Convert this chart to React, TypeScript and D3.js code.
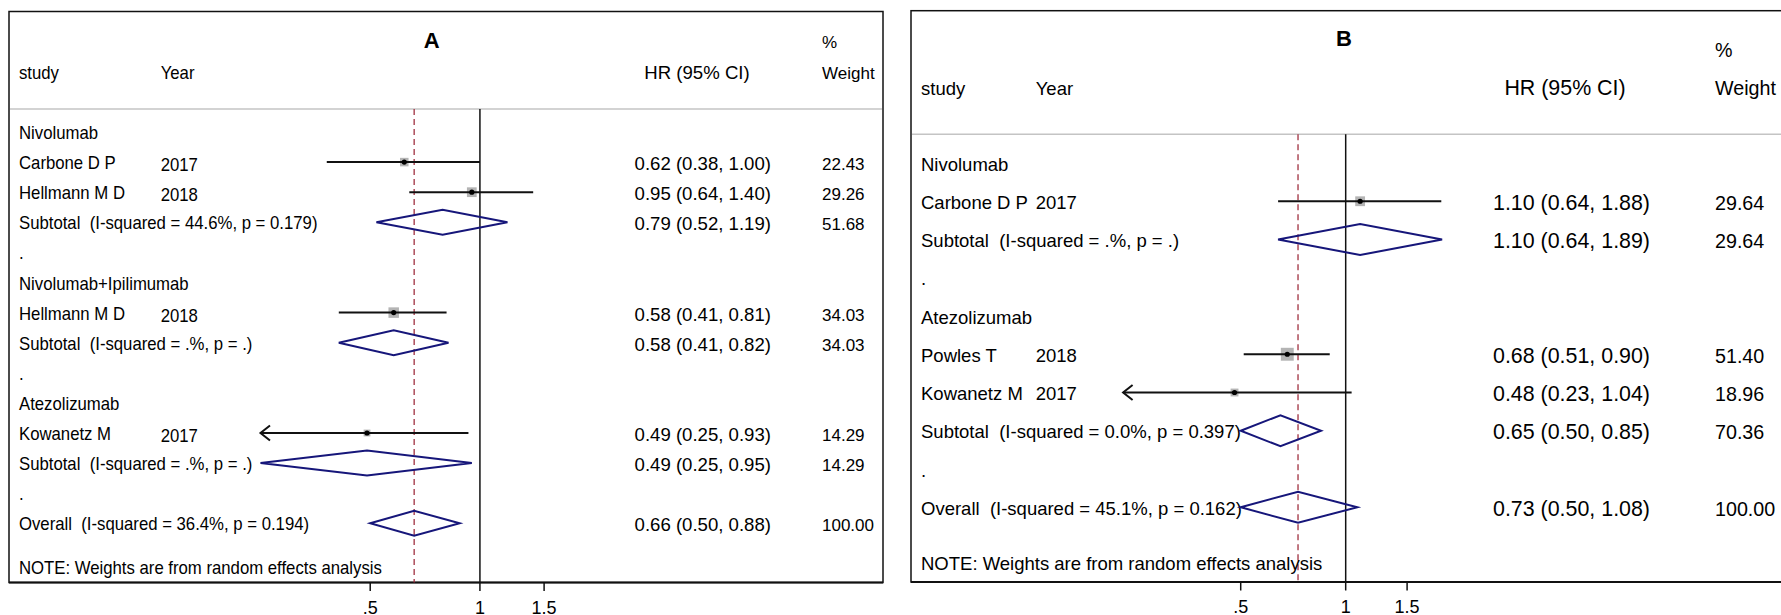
import React from "react";
import * as d3 from "d3";

// ---------------- Panel A data ----------------
const labelsA = [
  "Nivolumab",
  "Carbone D P",
  "Hellmann M D",
  "Subtotal  (I-squared = 44.6%, p = 0.179)",
  ".",
  "Nivolumab+Ipilimumab",
  "Hellmann M D",
  "Subtotal  (I-squared = .%, p = .)",
  ".",
  "Atezolizumab",
  "Kowanetz M",
  "Subtotal  (I-squared = .%, p = .)",
  ".",
  "Overall  (I-squared = 36.4%, p = 0.194)",
];
const kindsA = ["group", "study", "study", "sub", "dot", "group", "study", "sub", "dot", "group", "study", "sub", "dot", "overall"];
const yearsA = ["", "2017", "2018", "", "", "", "2018", "", "", "", "2017", "", "", ""];
const hrA = [null, 0.62, 0.95, 0.79, null, null, 0.58, 0.58, null, null, 0.49, 0.49, null, 0.66];
const loA = [null, 0.38, 0.64, 0.52, null, null, 0.41, 0.41, null, null, 0.25, 0.25, null, 0.5];
const hiA = [null, 1.0, 1.4, 1.19, null, null, 0.81, 0.82, null, null, 0.93, 0.95, null, 0.88];
const weightA = [null, 22.43, 29.26, 51.68, null, null, 34.03, 34.03, null, null, 14.29, 14.29, null, 100.0];

// ---------------- Panel B data ----------------
const labelsB = [
  "Nivolumab",
  "Carbone D P",
  "Subtotal  (I-squared = .%, p = .)",
  ".",
  "Atezolizumab",
  "Powles T",
  "Kowanetz M",
  "Subtotal  (I-squared = 0.0%, p = 0.397)",
  ".",
  "Overall  (I-squared = 45.1%, p = 0.162)",
];
const kindsB = ["group", "study", "sub", "dot", "group", "study", "study", "sub", "dot", "overall"];
const yearsB = ["", "2017", "", "", "", "2018", "2017", "", "", ""];
const hrB = [null, 1.1, 1.1, null, null, 0.68, 0.48, 0.65, null, 0.73];
const loB = [null, 0.64, 0.64, null, null, 0.51, 0.23, 0.5, null, 0.5];
const hiB = [null, 1.88, 1.89, null, null, 0.9, 1.04, 0.85, null, 1.08];
const weightB = [null, 29.64, 29.64, null, null, 51.4, 18.96, 70.36, null, 100.0];

// ---------------- Axis ----------------
const tickValues = [0.5, 1, 1.5];
const tickLabels = [".5", "1", "1.5"];
const noteText = "NOTE: Weights are from random effects analysis";

const FONT = "'Liberation Sans', Arial, Helvetica, sans-serif";
const NAVY = "#16167a";
const MAROON = "#a03040";

type Layout = {
  box: [number, number, number, number];
  sepY: number;
  rowY0: number;
  rowStep: number;
  noteY: number;
  titleX: number;
  titleY: number;
  studyX: number;
  yearX: number;
  headY: number;
  pctY: number;
  hrEnd: number;
  hrHeadX: number;
  wX: number;
  hrFont: number;
  wFont: number;
  leftFont: number;
  leftScale: number;
  domain: [number, number];
  range: [number, number];
  dHalf: number;
  textDy: number;
  yearDy: number;
};

const layoutA: Layout = {
  box: [9, 11.5, 883, 582.5],
  sepY: 109,
  rowY0: 132,
  rowStep: 30.1,
  noteY: 574,
  titleX: 431.6,
  titleY: 47.5,
  studyX: 19,
  yearX: 160.7,
  headY: 78.5,
  pctY: 48,
  hrEnd: 771,
  hrHeadX: 697,
  wX: 822,
  hrFont: 18.6,
  wFont: 17,
  leftFont: 18.5,
  leftScale: 0.905,
  domain: [0.25, 1.5],
  range: [260.5, 544.1],
  dHalf: 12.5,
  textDy: 7,
  yearDy: 2,
};

const layoutB: Layout = {
  box: [911, 10.7, 1795, 582],
  sepY: 134.3,
  rowY0: 163,
  rowStep: 38.25,
  noteY: 569.5,
  titleX: 1344,
  titleY: 46,
  studyX: 921,
  yearX: 1035.7,
  headY: 95,
  pctY: 56.7,
  hrEnd: 1650,
  hrHeadX: 1565,
  wX: 1715,
  hrFont: 21.4,
  wFont: 19.7,
  leftFont: 18.5,
  leftScale: 1,
  domain: [0.23, 1.89],
  range: [1123.1, 1442.1],
  dHalf: 15.5,
  textDy: 7.5,
  yearDy: 0,
};

function Panel(props: {
  title: string;
  labels: string[];
  kinds: string[];
  years: string[];
  hr: (number | null)[];
  lo: (number | null)[];
  hi: (number | null)[];
  weight: (number | null)[];
  L: Layout;
}) {
  const { title, labels, kinds, years, hr, lo, hi, weight, L } = props;
  const x = d3.scaleLog().domain(L.domain).range(L.range);
  const n = labels.length;
  const yRow = d3
    .scaleLinear()
    .domain([0, n - 1])
    .range([L.rowY0, L.rowY0 + (n - 1) * L.rowStep]);
  const [bx0, by0, bx1, by1] = L.box;
  const overallIdx = kinds.indexOf("overall");
  const xOverall = x(hr[overallIdx] as number);
  const x1 = x(1);
  const fmt = d3.format(".2f");

  const leftText = (txt: string, tx: number, ty: number, key: string) => (
    <text
      key={key}
      transform={`translate(${tx},${ty}) scale(${L.leftScale},1)`}
      fontSize={L.leftFont}
      style={{ whiteSpace: "pre" }}
      fill="#000"
    >
      {txt}
    </text>
  );

  const diamond = d3.line().curve(d3.curveLinearClosed);

  return (
    <g fontFamily={FONT}>
      {/* box */}
      <rect x={bx0} y={by0} width={bx1 - bx0} height={by1 - by0} fill="none" stroke="#111" strokeWidth={1.5} />
      <line x1={bx0} x2={bx1} y1={by1} y2={by1} stroke="#111" strokeWidth={2} />
      {/* separator */}
      <line x1={bx0 + 1} x2={bx1 - 1} y1={L.sepY} y2={L.sepY} stroke="#c4c4c4" strokeWidth={1.5} />
      {/* title */}
      <text x={L.titleX} y={L.titleY} textAnchor="middle" fontWeight="bold" fontSize={22}>
        {title}
      </text>
      {/* headers */}
      {leftText("study", L.studyX, L.headY, "h-study")}
      {leftText("Year", L.yearX, L.headY, "h-year")}
      <text x={L.hrHeadX} y={L.headY} textAnchor="middle" fontSize={L.hrFont}>
        HR (95% CI)
      </text>
      <text x={L.wX} y={L.pctY} fontSize={L.wFont}>
        %
      </text>
      <text x={L.wX} y={L.headY} fontSize={L.wFont}>
        Weight
      </text>

      {/* reference lines */}
      <line x1={xOverall} x2={xOverall} y1={L.sepY} y2={by1} stroke={MAROON} strokeWidth={1.3} strokeDasharray="6,4" />
      <line x1={x1} x2={x1} y1={L.sepY} y2={by1} stroke="#111" strokeWidth={1.5} />

      {/* axis ticks */}
      {tickValues.map((t, i) => (
        <g key={"t" + i}>
          <line x1={x(t)} x2={x(t)} y1={by1} y2={by1 + 8.5} stroke="#111" strokeWidth={1.5} />
          <text x={x(t)} y={by1 + 31} textAnchor="middle" fontSize={18}>
            {tickLabels[i]}
          </text>
        </g>
      ))}

      {/* rows */}
      {labels.map((lab, i) => {
        const y = yRow(i);
        const k = kinds[i];
        const els: React.ReactNode[] = [];
        els.push(leftText(lab, L.studyX, y + L.textDy, "l" + i));
        if (years[i]) els.push(leftText(years[i], L.yearX, y + L.textDy + L.yearDy, "y" + i));
        const h = hr[i];
        const l = lo[i];
        const u = hi[i];
        const w = weight[i];
        if (h != null && l != null && u != null) {
          if (k === "study") {
            const s = 1.8 * Math.sqrt(w as number);
            els.push(
              <rect key={"sq" + i} x={x(h) - s / 2} y={y - s / 2} width={s} height={s} fill="#b4b4b4" />
            );
            els.push(
              <line key={"ci" + i} x1={x(l)} x2={x(u)} y1={y} y2={y} stroke="#111" strokeWidth={2} />
            );
            if (l <= L.domain[0]) {
              const xt = x(l);
              els.push(
                <polyline
                  key={"ar" + i}
                  points={`${xt + 9.5},${y - 7.5} ${xt},${y} ${xt + 9.5},${y + 7.5}`}
                  fill="none"
                  stroke="#111"
                  strokeWidth={2}
                />
              );
            }
            els.push(<circle key={"pt" + i} cx={x(h)} cy={y} r={2.6} fill="#000" />);
          } else {
            const d = diamond([
              [x(l), y],
              [x(h), y - L.dHalf],
              [x(u), y],
              [x(h), y + L.dHalf],
            ]) as string;
            els.push(<path key={"dm" + i} d={d} fill="none" stroke={NAVY} strokeWidth={2} />);
          }
          els.push(
            <text key={"hr" + i} x={L.hrEnd} y={y + L.textDy + 1} textAnchor="end" fontSize={L.hrFont}>
              {`${fmt(h)} (${fmt(l)}, ${fmt(u)})`}
            </text>
          );
          els.push(
            <text key={"w" + i} x={L.wX} y={y + L.textDy + 1} fontSize={L.wFont}>
              {fmt(w as number)}
            </text>
          );
        }
        return <g key={"r" + i}>{els}</g>;
      })}

      {leftText(noteText, L.studyX, L.noteY, "note")}
    </g>
  );
}

export default function App() {
  return (
    <svg
      width={1781}
      height={615}
      style={{ position: "absolute", left: 0, top: 0, background: "#fff" }}
    >
      <rect x={0} y={0} width={1781} height={615} fill="#fff" />
      <Panel
        title="A"
        labels={labelsA}
        kinds={kindsA}
        years={yearsA}
        hr={hrA}
        lo={loA}
        hi={hiA}
        weight={weightA}
        L={layoutA}
      />
      <Panel
        title="B"
        labels={labelsB}
        kinds={kindsB}
        years={yearsB}
        hr={hrB}
        lo={loB}
        hi={hiB}
        weight={weightB}
        L={layoutB}
      />
    </svg>
  );
}
